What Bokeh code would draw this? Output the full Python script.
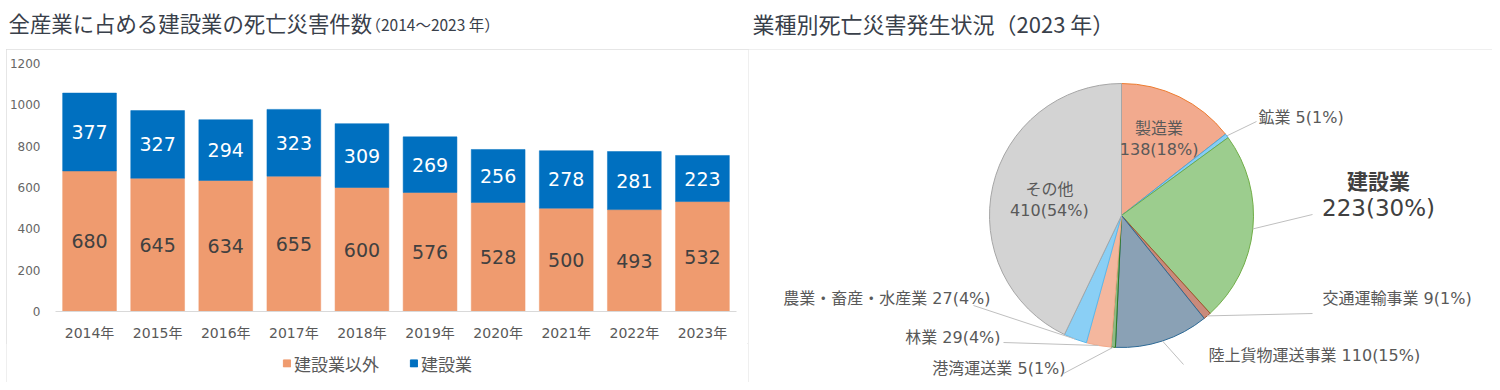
import numpy as np
from bokeh.plotting import figure
from bokeh.models import (ColumnDataSource, FixedTicker, Range1d, FactorRange, Legend,
                          LegendItem, Spacer)
from bokeh.layouts import row, column
from bokeh.embed import file_html
from bokeh.resources import INLINE
from bokeh.core.properties import value

# ---------------- data ----------------
years = ["2014年", "2015年", "2016年", "2017年", "2018年",
         "2019年", "2020年", "2021年", "2022年", "2023年"]
non_construction = [680, 645, 634, 655, 600, 576, 528, 500, 493, 532]
construction = [377, 327, 294, 323, 309, 269, 256, 278, 281, 223]
series_names = ["建設業以外", "建設業"]
y_ticks = [0, 200, 400, 600, 800, 1000, 1200]

industries = ["製造業", "鉱業", "建設業", "交通運輸事業", "陸上貨物運送事業",
              "港湾運送業", "林業", "農業・畜産・水産業", "その他"]
deaths_2023 = [138, 5, 223, 9, 110, 5, 29, 27, 410]
shares_2023 = [18, 1, 30, 1, 15, 1, 4, 4, 54]

left_title = "全産業に占める建設業の死亡災害件数"
left_subtitle = "（2014～2023 年）"
right_title = "業種別死亡災害発生状況（2023 年）"

# ---------------- styles ----------------
F_MIX = "DejaVu Sans, Noto Sans CJK JP"
F_JP = "Noto Sans CJK JP"
TITLE_C = "#39404a"
TXT = "#595959"
ORANGE = "#EF9B6F"
BLUE = "#0070C0"
PANEL = {"outline": "1px solid #dedede", "outline-offset": "-1px"}

pie_fill = ["#F2AA8E", "#86CDF4", "#9CCD8E", "#C98A7B", "#8AA1B5",
            "#8DBA84", "#F4B79E", "#8ACFF5", "#D3D3D3"]
pie_edge = ["#ED7D31", "#4BA8E0", "#70AD47", "#A0522D", "#2E6A96",
            "#2F7A22", "#F3A98A", "#5AB8EC", "#A6A6A6"]

W_L, W_R = 742, 744
H_T, H_BAR, H_LEG, H_PIE = 49, 294, 39, 333


def blank(w, h):
    f = figure(width=w, height=h, x_range=Range1d(0, w), y_range=Range1d(0, h),
               min_border=0, toolbar_location=None, output_backend="svg",
               x_axis_location=None, y_axis_location=None, outline_line_color=None,
               frame_align=False)
    f.grid.visible = False
    return f


# ---------------- titles ----------------
t1 = blank(W_L, H_T)
t1.text(x=[2], y=[27], text=[left_title], text_font=value(F_JP), text_font_size="21.4px",
        text_baseline="middle", text_color=TITLE_C)
t1.text(x=[359], y=[26], text=[left_subtitle], text_font=value(F_JP), text_font_size="15.5px",
        text_baseline="middle", text_color=TITLE_C)

t2 = blank(W_R, H_T)
t2.text(x=[4], y=[27], text=[right_title], text_font=value(F_JP), text_font_size="22px",
        text_baseline="middle", text_color=TITLE_C)

# ---------------- stacked bar ----------------
nc = np.array(non_construction, dtype=float)
co = np.array(construction, dtype=float)
src = ColumnDataSource(dict(
    year=years, other=non_construction, cons=construction,
    mid_other=nc / 2, mid_cons=nc + co / 2,
    lbl_other=[str(v) for v in non_construction],
    lbl_cons=[str(v) for v in construction],
))

p = figure(x_range=FactorRange(*years), y_range=Range1d(0, 1200),
           width=W_L, height=H_BAR, toolbar_location=None, output_backend="svg",
           min_border_left=48, min_border_right=12, min_border_top=14, min_border_bottom=27,
           outline_line_color=None, frame_align=False)
rs = p.vbar_stack(["other", "cons"], x="year", width=0.79, source=src,
                  fill_color=[ORANGE, BLUE], line_color=[ORANGE, BLUE], line_width=0.5)
p.text(x="year", y="mid_other", text="lbl_other", source=src, text_align="center",
       text_baseline="middle", text_font=value(F_MIX), text_font_size="19px", text_color="#404040")
p.text(x="year", y="mid_cons", text="lbl_cons", source=src, text_align="center",
       text_baseline="middle", text_font=value(F_MIX), text_font_size="19px", text_color="white")

p.grid.visible = False
p.yaxis.ticker = FixedTicker(ticks=y_ticks)
p.yaxis.axis_line_color = None
p.yaxis.major_tick_line_color = None
p.yaxis.minor_tick_line_color = None
p.yaxis.major_label_standoff = 9
p.yaxis.major_label_text_font = F_MIX
p.yaxis.major_label_text_font_size = "12px"
p.yaxis.major_label_text_color = "#666666"
p.xaxis.axis_line_color = "#d9d9d9"
p.xaxis.major_tick_line_color = None
p.xaxis.minor_tick_line_color = None
p.xaxis.major_label_standoff = 7
p.xaxis.major_label_text_font = F_MIX
p.xaxis.major_label_text_font_size = "14px"
p.xaxis.major_label_text_color = TXT

# legend strip below the bar chart: swatch renderers hold no drawable point (NaN),
# they only carry the series colours for the legend
lg = figure(width=W_L, height=H_LEG, x_range=Range1d(0, 1), y_range=Range1d(0, 1),
            min_border=0, toolbar_location=None, output_backend="svg",
            x_axis_location=None, y_axis_location=None, outline_line_color=None,
            frame_align=False)
lg.grid.visible = False
sw = [lg.vbar(x=[np.nan], top=[np.nan], width=0.5, fill_color=c, line_color=c)
      for c in (ORANGE, BLUE)]
legend = Legend(items=[LegendItem(label=series_names[i], renderers=[sw[i]]) for i in range(2)],
                orientation="horizontal", location="center",
                label_text_font=F_JP, label_text_font_size="17px", label_text_color=TXT,
                glyph_width=9, glyph_height=9, label_standoff=3, spacing=30, label_height=20,
                padding=2, margin=0, border_line_color=None, background_fill_alpha=0)
lg.add_layout(legend)

# ---------------- pie ----------------
q = blank(W_R, H_PIE)
q.styles = PANEL
CX, CY, R = 373, 167, 132
vals = np.array(deaths_2023, dtype=float)
tot = vals.sum()
cum = np.cumsum(vals)
frac_start = (cum - vals) / tot
frac_end = cum / tot
ps = ColumnDataSource(dict(
    start=np.pi / 2 - frac_end * 2 * np.pi,
    end=np.pi / 2 - frac_start * 2 * np.pi,
    fill=pie_fill, edge=pie_edge, name=industries,
))
q.wedge(x=CX, y=CY, radius=R, start_angle="start", end_angle="end", direction="anticlock",
        fill_color="fill", line_color="edge", line_width=1, source=ps)

mid = (frac_start + frac_end) / 2 * 2 * np.pi  # clockwise from top
idx = {n: i for i, n in enumerate(industries)}


def lbl(i):
    return f"{industries[i]} {deaths_2023[i]}({shares_2023[i]}%)"


# inner labels
for name, f in [("製造業", 0.65), ("その他", 0.56)]:
    i = idx[name]
    lx = CX + f * R * np.sin(mid[i])
    ly = CY + f * R * np.cos(mid[i])
    q.text(x=[lx, lx], y=[ly + 10, ly - 11],
           text=[industries[i], f"{deaths_2023[i]}({shares_2023[i]}%)"],
           text_align="center", text_baseline="middle", text_font=value(F_MIX),
           text_font_size="16px", text_color=TXT)

# outside labels: (name, leader end, text anchor, align)
outside = [
    ("鉱業", (508, 261), (510, 265), "left"),
    ("交通運輸事業", (564, 69), (574, 84), "left"),
    ("陸上貨物運送事業", (435, 18), (460, 27), "left"),
    ("港湾運送業", (315, 9), (317, 14), "right"),
    ("林業", (255, 40), (252, 45), "right"),
    ("農業・畜産・水産業", (225, 77), (242, 84), "right"),
]
xs, ys = [], []
for name, end, anc, al in outside:
    i = idx[name]
    xs.append([CX + R * np.sin(mid[i]), end[0]])
    ys.append([CY + R * np.cos(mid[i]), end[1]])
ic = idx["建設業"]
xs.append([CX + R * np.sin(mid[ic]), 564])
ys.append([CY + R * np.cos(mid[ic]), 168])
q.multi_line(xs=xs, ys=ys, line_color="#BFBFBF", line_width=1)

for name, end, anc, al in outside:
    i = idx[name]
    q.text(x=[anc[0]], y=[anc[1]], text=[lbl(i)], text_align=al, text_baseline="middle",
           text_font=value(F_MIX), text_font_size="16px", text_color=TXT)

q.text(x=[630], y=[203], text=[industries[ic]], text_align="center", text_baseline="middle",
       text_font=value(F_JP), text_font_size="21px", text_font_style="bold", text_color="#404040")
q.text(x=[630], y=[175], text=[f"{deaths_2023[ic]}({shares_2023[ic]}%)"], text_align="center",
       text_baseline="middle", text_font=value(F_MIX), text_font_size="23px", text_color="#404040")

panel_left = column(p, lg, spacing=0, styles=PANEL)
left = column(t1, panel_left, spacing=0)
right = column(t2, q, spacing=0)
layout = row(Spacer(width=6, height=10), left, right, spacing=0)
open("out.html", "w").write(file_html(layout, INLINE))
